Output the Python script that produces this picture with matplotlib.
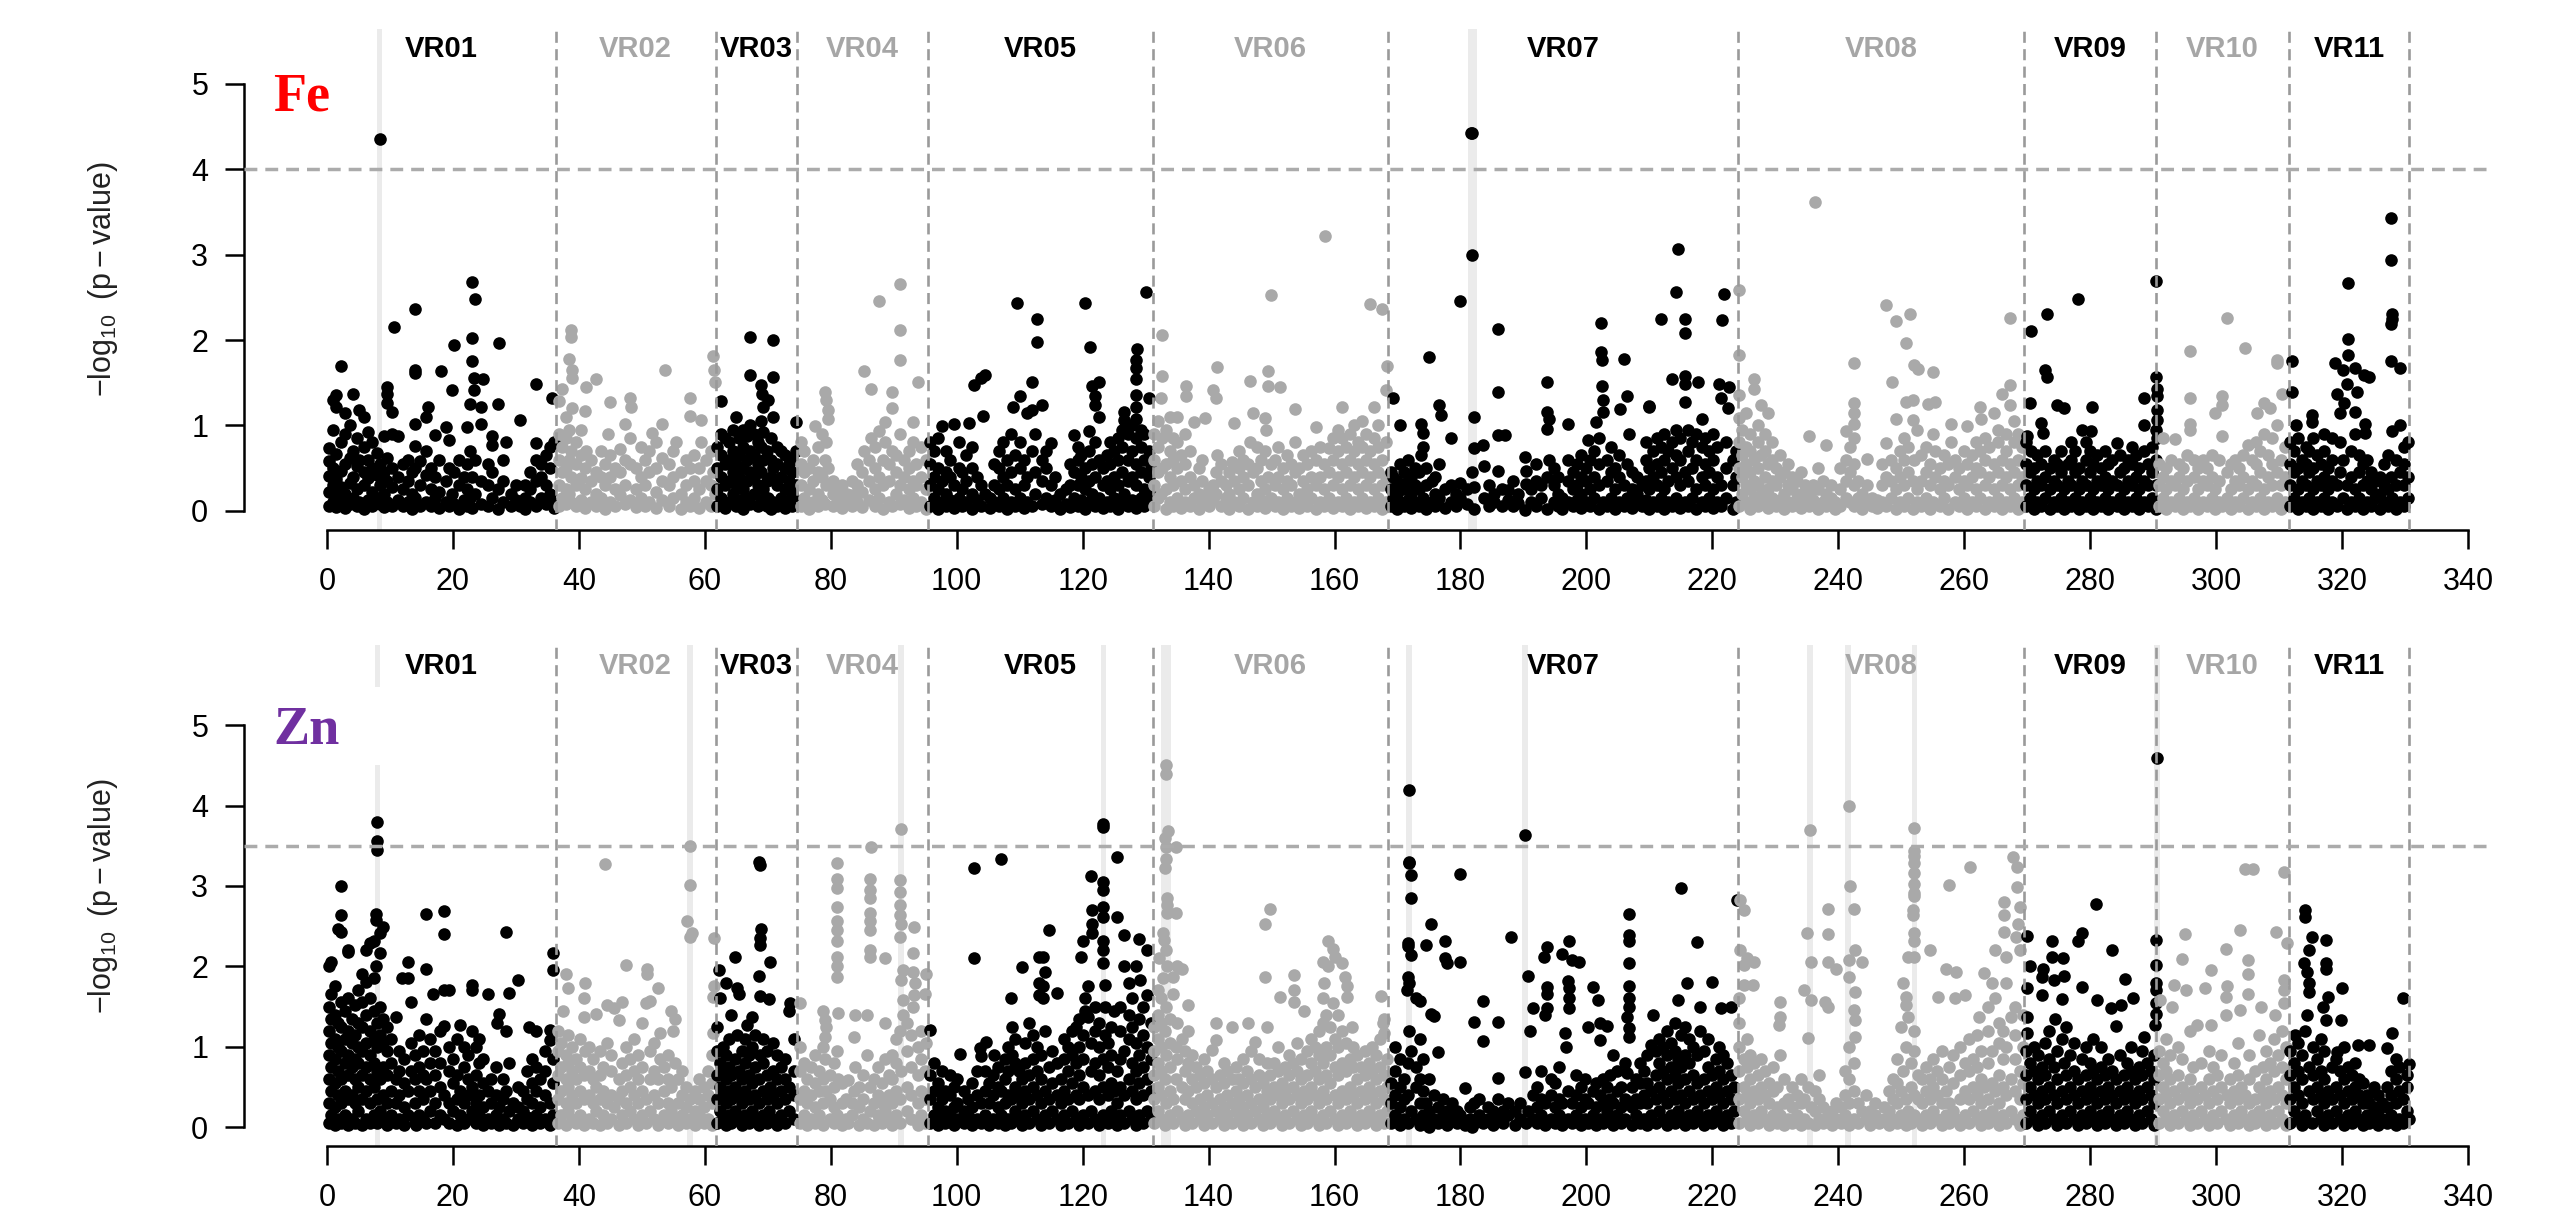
import matplotlib
matplotlib.use('Agg')
import matplotlib.pyplot as plt

plt.rcParams['font.family'] = ['Liberation Sans', 'DejaVu Sans']
plt.rcParams['mathtext.fontset'] = 'custom'
plt.rcParams['mathtext.rm'] = 'Liberation Sans'
plt.rcParams['mathtext.it'] = 'Liberation Sans:italic'
plt.rcParams['mathtext.bf'] = 'Liberation Sans:bold'

# ---------------- data ----------------
chrom_names = ['VR01', 'VR02', 'VR03', 'VR04', 'VR05', 'VR06', 'VR07', 'VR08', 'VR09', 'VR10', 'VR11']
chrom_bounds = [0, 36.3, 61.7, 74.7, 95.4, 131.1, 168.5, 224.0, 269.5, 290.5, 311.5, 330.7]
x_ticks = list(range(0, 341, 20))
y_ticks = [0, 1, 2, 3, 4, 5]
fe_threshold = 4.0
zn_threshold = 3.5
fe_bands = [(7.9, 8.8), (181.2, 182.6)]
zn_bands = [(7.55, 8.45), (57.15, 58.05), (90.75, 91.65), (122.85, 123.75), (132.5, 134.1),
            (171.35, 172.25), (189.75, 190.65), (235.05, 235.95), (241.05, 241.95),
            (251.65, 252.55), (290.15, 291.05)]

# each column: [position (Mb), -log10(p) values ...]
fe_vr01 = [[0.3,0.05,0.22,0.41,0.58,0.74],[1.0,0.1,0.3,0.5,0.95,1.3],[1.5,0.04,0.18,0.37,0.66,1.22,1.36],[2.3,0.12,0.28,0.46,0.8,1.7],
 [2.9,0.03,0.2,0.55,0.9,1.14],[3.6,0.08,0.33,0.62,1.0],[4.1,0.15,0.4,0.7,1.37],[4.8,0.05,0.25,0.52,0.85],[5.1,0.1,0.6,1.18],
 [5.8,0.02,0.3,0.45,0.75,1.1],[6.5,0.12,0.38,0.6,0.92],[7.2,0.06,0.22,0.5,0.8],[7.9,0.15,0.42,0.68],[8.4,0.08,0.3,0.55,4.36],
 [9.0,0.04,0.2,0.45,0.88],[9.6,0.1,0.35,0.62,1.26,1.37,1.45],[10.3,0.05,0.28,0.5,0.9,1.16],[10.6,2.15],[11.3,0.12,0.4,0.87],
 [12.0,0.05,0.25,0.55],[12.8,0.1,0.35,0.6],[13.5,0.02,0.2,0.45],[14.0,0.15,0.5,0.76,1.02,1.61,1.65,2.36],[14.8,0.05,0.3,0.58],
 [15.7,0.1,0.42,0.7,1.1],[16.0,1.22],[16.5,0.05,0.25,0.5],[17.1,0.15,0.4,0.89],[17.8,0.03,0.22,0.6],[18.1,1.64],[18.9,0.1,0.35,0.98],
 [19.3,0.05,0.5,0.83],[19.8,0.2,1.41],[20.2,0.08,0.45,1.94],[21.0,0.02,0.3,0.6],[21.7,0.12,0.4],[22.2,0.05,0.25,0.55,0.98],
 [22.7,0.15,0.7,1.25],[23.1,0.03,0.4,1.75,2.02],[23.3,1.41,1.56],[23.0,2.68],[23.5,0.2,0.6,2.48],[24.4,0.08,0.35,1.02,1.21],
 [24.8,1.54],[25.5,0.05,0.3,0.55],[26.2,0.15,0.45,0.77,0.87],[27.1,0.02,0.25,1.25],[27.3,1.97],[28.0,0.1,0.35,0.6],[28.4,0.81],
 [29.2,0.05,0.2],[30.0,0.12,0.3],[30.6,0.05,1.06],[31.5,0.02,0.15,0.3],[32.3,0.1,0.25,0.45],[33.2,0.05,0.35,0.6,0.79,1.49],
 [34.0,0.15,0.4,0.55],[34.8,0.08,0.3,0.65],[35.4,0.2,0.5,0.75],[35.7,0.1,1.32],[36.1,0.03,0.81]]
fe_vr02 = [[36.8,0.05,0.3,0.6,0.9,1.28],[37.3,0.15,0.45,0.75,1.43],[38.0,0.08,0.25,0.5,0.85,1.1],[38.5,0.2,0.6,0.95,1.78],
 [38.8,0.1,0.4,0.7,2.04,2.12],[38.9,1.2,1.55,1.65],[39.6,0.05,0.3,0.55,0.8],[40.3,0.12,0.38,0.65,0.95],[41.0,0.03,0.25,0.5,1.17],
 [41.2,0.7,1.45],[42.0,0.1,0.35,0.6],[42.7,0.05,0.2,0.45,1.54],[43.5,0.15,0.4,0.7],[44.2,0.02,0.3,0.55],[44.6,0.9],
 [45.0,0.1,0.4,0.65,1.27],[45.8,0.05,0.25,0.5],[46.5,0.18,0.45,0.72],[47.4,0.08,0.3,0.6,1.02],[48.1,0.12,0.55,0.85,1.32],[48.3,1.22],
 [49.0,0.04,0.25,0.5],[49.8,0.15,0.4,0.75],[50.5,0.06,0.3,0.6],[51.2,0.1,0.45,0.7],[51.6,0.91],[52.3,0.03,0.22,0.5,0.8],
 [53.2,0.12,0.35,0.62,1.02],[53.7,1.65],[54.3,0.05,0.3,0.55],[55.0,0.15,0.4,0.7],[55.4,0.81],[56.2,0.02,0.2,0.45],[57.0,0.1,0.3,0.6],
 [57.6,0.05,0.5,1.11,1.32],[58.3,0.15,0.35,0.65],[59.0,0.03,0.25,0.5],[59.4,0.8,1.06],[60.2,0.1,0.35,0.6],[61.0,0.05,0.3,0.7],
 [61.3,0.45,1.81],[61.4,1.65],[61.6,0.2,1.51]]
fe_vr03 = [[62.0,0.05,0.25,0.5,0.75],[62.6,0.15,0.4,0.65,0.9,1.28],[63.2,0.03,0.3,0.55,0.85],[63.8,0.1,0.35,0.6,0.8],
 [64.4,0.2,0.45,0.7,0.95],[64.9,0.05,0.3,0.55,1.1],[65.5,0.12,0.4,0.65,0.85],[66.1,0.02,0.25,0.5,0.75,0.95],[66.7,0.15,0.35,0.6,0.88],
 [67.2,0.08,0.45,0.7,1.0,1.59,2.03],[67.8,0.2,0.4,0.65,0.9],[68.4,0.05,0.3,0.55,0.8],[68.9,0.12,0.45,0.75,1.05,1.47],[69.1,1.37],
 [69.3,0.25,0.6,0.92,1.22],[69.8,0.05,0.35,0.7],[70.0,0.15,1.3],[70.5,0.02,0.4,0.6,0.85],[70.9,0.1,0.5,1.1,1.57,2.0],
 [71.5,0.05,0.3,0.55,0.75],[72.1,0.15,0.4,0.7],[72.7,0.03,0.25,0.5,0.65],[73.3,0.1,0.35,0.55],[73.9,0.05,0.2,0.45,0.6],
 [74.5,0.12,0.3,0.7,1.04]]
fe_vr04 = [[75.2,0.05,0.3,0.55,0.8],[75.8,0.15,0.45,0.7],[76.5,0.02,0.25,0.5],[77.2,0.1,0.35,0.6],[77.5,0.99],[78.0,0.05,0.2,0.45,0.75],
 [78.6,0.12,0.4,0.9],[79.1,0.08,0.6,1.39],[79.3,0.3,0.8,1.3],[79.6,0.5,1.08,1.18],[80.3,0.05,0.2,0.35],[81.0,0.1,0.25],
 [81.8,0.03,0.15,0.3],[82.5,0.08,0.2],[83.3,0.05,0.18,0.35],[84.2,0.1,0.3,0.55],[85.0,0.04,0.22,0.45],[85.3,0.7,1.64],
 [86.0,0.12,0.35,0.6],[86.4,0.85,1.43],[87.0,0.05,0.25,0.5,0.75],[87.7,0.15,0.4,0.93,2.46],[88.3,0.02,0.3,0.6],[88.6,0.8,1.04],
 [89.2,0.1,0.35,0.55],[89.7,0.05,0.7,1.2,1.39],[90.4,0.2,0.45,0.65],[91.0,0.08,0.3,0.9,1.77,2.12,2.66],[91.7,0.12,0.4,0.6],
 [92.4,0.03,0.25,0.5,0.7],[93.0,0.15,0.35,0.8,1.04],[93.6,0.05,0.3,0.55],[93.9,1.51],[94.4,0.1,0.4,0.75],[95.1,0.02,0.25,0.6]]
fe_vr05 = [[95.8,0.05,0.3,0.55,0.8],[96.4,0.15,0.4,0.7],[97.0,0.02,0.25,0.5,0.85],[97.7,0.1,0.35,0.99],[98.3,0.05,0.2,0.45,0.7],
 [99.0,0.12,0.4,0.6],[99.6,0.03,0.3,1.02],[100.3,0.15,0.5,0.8],[100.9,0.05,0.25,0.45],[101.5,0.1,0.35,0.65],[101.9,1.03],
 [102.5,0.02,0.2,0.5,0.75],[102.8,1.47],[103.2,0.12,0.4],[103.9,0.05,0.3,1.55],[104.1,1.11],[104.5,0.2,1.59],[105.3,0.03,0.15],
 [106.0,0.1,0.3,0.55],[106.7,0.05,0.25,0.5,0.7],[107.3,0.15,0.4,0.8],[108.0,0.02,0.3,0.6],[108.6,0.1,0.45,0.9],[108.9,1.22],
 [109.3,0.05,0.25,0.65],[109.5,2.43],[110.1,0.15,0.5,0.8,1.34],[110.7,0.03,0.3,0.6],[111.2,0.1,0.4,1.14],[111.9,0.05,0.7,1.18,1.51],
 [112.5,0.2,0.45,0.9],[112.8,1.98,2.25],[113.5,0.08,0.35,0.6,1.24],[114.2,0.15,0.5,0.7],[114.9,0.05,0.3,0.79],[115.6,0.12,0.4],
 [116.4,0.02,0.2],[117.3,0.08,0.25],[118.0,0.04,0.3,0.55],[118.6,0.15,0.45,0.89],[119.2,0.05,0.3,0.6,0.75],[119.8,0.12,0.4,0.65],
 [120.4,0.02,0.25,0.5,2.43],[121.0,0.1,0.35,0.7,0.93],[121.1,1.92],[121.5,0.2,0.55,1.46],[122.0,0.05,0.4,0.8,1.24,1.34],
 [122.6,0.15,0.6,1.1,1.51],[123.2,0.03,0.3,0.5],[123.8,0.1,0.35,0.65],[124.4,0.05,0.25,0.55,0.8],[125.0,0.15,0.4,0.7],
 [125.6,0.02,0.3,0.6,0.85],[126.2,0.1,0.45,0.75,0.95],[126.6,0.2,1.06,1.16],[127.2,0.05,0.35,0.6,0.9],[127.8,0.12,0.4,0.7,1.0],
 [128.4,0.03,0.3,0.55,0.85,1.08,1.22,1.35,1.54,1.67,1.76],[128.6,1.89],[129.2,0.15,0.45,0.75,0.95],[129.8,0.05,0.25,0.6,0.9],
 [130.1,2.56],[130.5,0.1,0.4,0.7,1.32],[130.9,0.2,0.5]]
fe_vr06 = [[131.4,0.05,0.3,0.6,0.9],[132.0,0.15,0.45,0.75,1.05],[132.4,0.2,1.32],[132.6,0.5,0.85,1.58,2.06],[133.2,0.02,0.25,0.55,0.95],
 [133.8,0.1,0.4,0.7,1.1],[134.4,0.05,0.3,0.6,0.85],[135.0,0.15,0.5,0.8,1.1],[135.6,0.03,0.35,0.65],[136.2,0.1,0.25,0.55,0.9],
 [136.4,1.34,1.46],[137.0,0.05,0.4,0.7],[137.7,0.15,0.3,1.04],[138.4,0.02,0.2,0.5],[139.0,0.1,0.35,0.6],[139.4,0.15,1.09],
 [140.0,0.05,0.25],[140.7,0.12,0.3,1.42],[141.2,0.2,0.45,1.32],[141.4,0.65,1.68],[142.0,0.05,0.35,0.55],[142.7,0.15,0.3],
 [143.3,0.02,0.2,0.45],[143.7,0.57],[144.1,0.1,0.35,1.03],[144.8,0.05,0.25,0.5,0.7],[145.5,0.15,0.4,0.6],[146.2,0.02,0.3,0.55],
 [146.5,0.8,1.52],[147.0,0.1,0.45,1.14],[147.7,0.05,0.2,0.5,0.75],[148.3,0.12,0.35,0.6],[149.0,0.03,0.25,0.7,1.09],[149.1,0.94],
 [149.4,0.4,1.46,1.64],[149.9,0.15,0.55,2.53],[150.5,0.05,0.3,0.6],[151.1,0.1,0.4,0.75],[151.4,1.45],[151.8,0.02,0.25,0.5],
 [152.5,0.15,0.35,0.65],[153.1,0.05,0.3,0.55],[153.7,0.1,0.45,0.8,1.19],[154.4,0.03,0.2,0.5],[155.0,0.12,0.35,0.65],
 [155.7,0.05,0.25,0.55],[156.3,0.15,0.4,0.7],[157.0,0.02,0.3,0.6,0.98],[157.7,0.1,0.4,0.75],[158.3,0.05,0.25,0.55],[158.5,3.22],
 [159.1,0.15,0.45,0.73],[159.8,0.03,0.3,0.6,0.85],[160.5,0.1,0.4,0.7,0.95],[161.2,0.05,0.25,0.55,0.85,1.21],[161.8,0.15,0.45,0.75],
 [162.5,0.02,0.3,0.6,0.9],[163.1,0.1,0.4,0.7,1.0],[163.8,0.05,0.25,0.55,0.8],[164.4,0.15,0.45,0.75,1.05],[165.0,0.03,0.3,0.6,0.9],
 [165.6,0.1,0.4,0.7,2.42],[166.3,0.05,0.25,0.55,0.85,1.22],[166.9,0.15,0.45,0.75,1.0],[167.6,0.02,0.3,0.6,2.36],
 [168.2,0.1,0.4,0.8,1.41],[168.4,1.7]]
fe_vr07 = [[168.9,0.05,0.25,0.45],[169.3,0.15,0.4,1.32],[169.9,0.02,0.2,0.35],[170.4,0.1,0.3,0.55,1.0],[171.0,0.05,0.25,0.45],
 [171.6,0.12,0.35,0.6],[172.2,0.03,0.2,0.4],[172.8,0.1,0.3,0.5],[173.4,0.05,0.25,0.45],[173.8,0.65,1.02],[174.0,0.15,0.75,0.91],
 [174.6,0.02,0.3,0.5],[175.0,1.8],[175.4,0.1,0.35],[176.0,0.05,0.2,0.4],[176.6,0.15,0.55,1.24],[176.9,1.12],[177.6,0.03,0.25],
 [178.5,0.1,0.3,0.85],[179.3,0.05,0.2],[180.0,0.15,0.32,2.46],[181.0,0.08,0.25],[181.6,4.42],[181.9,0.45,3.0,4.42],
 [182.2,0.02,0.28,0.73,1.1],[183.6,0.77],[183.7,0.15,0.52],[184.5,0.05,0.3],[185.3,0.1,0.2],[186.0,0.46,0.89,1.39,2.13],
 [186.6,0.05,0.25],[187.1,0.89],[187.5,0.24,0.12],[188.3,0.05,0.35],[189.1,0.09,0.2],[190.3,0.01,0.63],[190.4,0.31,0.46],
 [191.2,0.1,0.25],[192.0,0.05,0.35,0.55],[192.8,0.15,0.3],[193.7,0.02,0.4,0.96,1.16,1.51],[194.1,0.6,1.08],[194.8,0.1,0.3,0.5],
 [195.5,0.05,0.2,0.4],[196.2,0.02,0.15],[197.0,0.1,0.35,0.6,1.02],[197.8,0.05,0.25,0.45],[198.5,0.12,0.3,0.55],
 [199.2,0.03,0.2,0.4,0.65],[199.9,0.1,0.35,0.5],[200.3,0.83],[200.6,0.05,0.25,0.6],[201.2,0.15,0.4,0.7],[201.6,1.04],
 [202.0,0.02,0.3,0.55,0.85],[202.3,1.86,2.2],[202.4,1.46,1.76],[202.7,0.1,1.16,1.3],[203.3,0.05,0.35,0.6],[203.9,0.15,0.45,0.75],
 [204.5,0.02,0.25,0.5],[205.1,0.1,0.4,0.65],[205.4,1.19],[205.9,0.05,0.3,1.78],[206.5,0.15,0.55,1.34],[206.7,0.9],
 [207.2,0.03,0.25,0.45],[208.0,0.1,0.2,0.4],[208.8,0.05,0.3],[209.5,0.12,0.35,0.6,0.8],[210.0,0.02,0.25,0.5,1.22,1.23],
 [210.6,0.1,0.4,0.7],[211.2,0.05,0.3,0.55,0.85],[211.8,0.15,0.45,0.75,2.25],[212.4,0.02,0.25,0.6,0.9],[213.0,0.1,0.35,0.7],
 [213.6,0.05,0.5,0.8,1.54],[214.2,0.15,0.4,0.65,0.95],[214.3,2.56],[214.6,3.07],[214.9,0.03,0.3,0.6,0.85],
 [215.6,0.1,0.45,1.27,1.49,1.58,2.08,2.25],[216.2,0.05,0.35,0.7,0.95],[216.8,0.15,0.5,0.8],[217.4,0.02,0.25,0.6,0.9],[217.8,1.51],
 [218.3,0.1,0.4,0.75,1.08],[218.9,0.05,0.3,0.55,0.85],[219.5,0.15,0.45,0.7],[220.1,0.03,0.25,0.6,0.9],[220.7,0.1,0.4,0.75],
 [221.0,1.48],[221.4,0.05,0.3,1.32],[221.6,2.23],[221.8,2.54],[222.2,0.15,0.5,0.8],[222.5,1.2],[222.7,1.45],[223.3,0.02,0.3,0.6],
 [223.8,0.1,0.4,0.7]]
fe_vr08 = [[224.2,0.05,0.5,0.8,1.09,1.35,1.82,2.58],[224.7,0.2,0.4,0.65,0.95],[225.3,0.1,0.3,0.55,0.75,1.14],[225.9,0.02,0.25,0.45,0.7,0.9],
 [226.6,0.15,0.35,0.6,1.43,1.54],[227.2,0.05,0.3,0.5,0.8,1.0],[227.7,0.2,0.65,1.24],[228.3,0.1,0.4,0.7,0.9],[228.8,0.03,0.25,0.55,1.15],
 [229.5,0.15,0.35,0.6,0.8],[230.1,0.05,0.3,0.5],[230.7,0.12,0.4,0.65],[231.4,0.02,0.2,0.45],[232.0,0.1,0.3,0.55],[232.7,0.05,0.25,0.4],
 [233.4,0.15,0.35],[234.0,0.03,0.2,0.45],[234.7,0.1,0.3],[235.3,0.05,0.2,0.87],[236.0,0.12,0.3],[236.3,3.62],[236.8,0.02,0.25,0.5],
 [237.5,0.1,0.35],[238.1,0.05,0.2,0.77],[238.8,0.15,0.3],[239.5,0.02,0.1],[240.3,0.05,0.25,0.5],[241.2,0.15,0.35,0.6,0.93],
 [241.8,0.1,0.45,0.75],[242.5,0.05,0.3,0.55,0.85,1.02,1.14,1.26,1.73],[243.1,0.15,0.35],[243.8,0.02,0.2],[244.5,0.1,0.3,0.61],
 [245.3,0.05,0.15],[246.2,0.03,0.12],[247.0,0.1,0.3,0.55],[247.6,0.05,0.4,0.79,2.41],[248.3,0.15,0.35,0.6],[248.6,1.51],
 [249.2,0.02,0.25,0.5,1.08,2.22],[249.8,0.1,0.4,0.7],[250.4,0.05,0.3,0.6,0.85],[250.7,1.27,1.97],[251.1,0.15,0.45,0.75],[251.4,2.31],
 [251.8,0.02,0.35,1.06,1.3],[252.1,0.6,1.71],[252.5,0.1,0.25,0.94],[252.7,1.66],[253.2,0.05,0.35,0.65],[253.9,0.15,0.45,0.75],
 [254.2,1.25],[254.6,0.02,0.3,0.55],[255.0,0.1,0.9,1.63],[255.4,0.4,0.7,1.27],[256.1,0.05,0.25,0.5],[256.8,0.15,0.35,0.65],
 [257.5,0.02,0.3,0.55],[257.9,0.8,1.02],[258.5,0.1,0.4,0.6],[259.2,0.05,0.25,0.5],[259.9,0.15,0.35,0.7],[260.5,0.02,0.3,0.55,0.99],
 [261.2,0.1,0.4,0.65],[261.9,0.05,0.25,0.5,0.8],[262.5,0.15,0.45,0.7,1.21],[262.7,1.08],[263.3,0.02,0.3,0.6,0.85],
 [264.0,0.1,0.4,0.75],[264.7,0.05,0.25,0.55,1.15],[265.3,0.15,0.45,0.8,0.95],[266.0,0.02,0.3,0.6,1.37],[266.6,0.1,0.4,0.7,0.9],
 [267.2,0.05,0.25,0.55,1.47,2.26],[267.3,1.24],[267.9,0.15,0.45,0.8,1.05],[268.5,0.02,0.3,0.6,0.9],[269.2,0.1,0.4,0.75]]
fe_vr09 = [[269.8,0.05,0.3,0.55,0.8],[270.0,0.87],[270.5,0.15,0.45,1.26],[270.6,0.7,2.1],[271.1,0.02,0.25,0.5],[271.6,0.1,0.35,0.65],
 [272.2,0.05,0.3,0.55,1.03],[272.5,0.91],[272.8,0.15,0.4,0.7,1.65],[273.1,1.57,2.31],[273.6,0.02,0.25,0.5],[274.2,0.1,0.35,0.6],
 [274.7,0.05,0.3,0.55,1.24],[275.3,0.15,0.45,0.7],[275.8,0.02,0.25,1.2],[276.4,0.1,0.35,0.55],[277.0,0.05,0.3,0.6,0.8],
 [277.6,0.15,0.45,0.7],[278.0,2.48],[278.2,0.02,0.25,0.5],[278.7,0.1,0.35,0.94],[279.3,0.05,0.3,0.6,0.8],[279.9,0.15,0.45,0.7],
 [280.2,0.93],[280.3,1.21],[280.5,0.02,0.25,0.55],[281.1,0.1,0.35,0.65],[281.7,0.05,0.3,0.5],[282.3,0.15,0.4,0.7],
 [282.9,0.02,0.25,0.55],[283.5,0.1,0.35,0.6],[284.2,0.05,0.3,0.79],[284.8,0.15,0.45,0.65],[285.4,0.02,0.25,0.5],[286.0,0.1,0.35,0.6],
 [286.6,0.05,0.3,0.55,0.75],[287.2,0.15,0.4,0.65],[287.8,0.02,0.25,0.5],[288.6,0.1,0.35,0.7,1.0,1.32],[289.2,0.05,0.3,0.55],
 [289.8,0.15,0.45,0.75],[290.4,0.02,0.3,0.6,0.94],[290.5,1.57,2.69],[290.6,0.85,1.06,1.18,1.34,1.43]]
fe_vr10 = [[290.9,0.05,0.3,0.55],[291.5,0.15,0.4,0.85],[292.1,0.02,0.25,0.5],[292.8,0.1,0.35,0.6],[293.5,0.05,0.3,0.84],
 [294.1,0.15,0.4,0.55],[294.8,0.02,0.25,0.5],[295.4,0.1,0.35,0.65],[295.9,0.05,0.94,1.02,1.32,1.87],[296.5,0.15,0.4,0.6],
 [297.2,0.02,0.25,0.5],[297.9,0.1,0.35,0.6],[298.6,0.05,0.3,0.5],[299.3,0.15,0.4,0.65],[299.9,0.02,0.25,1.14],[300.5,0.1,0.35,0.6],
 [301.0,0.05,0.87,1.24,1.34],[301.7,0.15,0.45,2.26],[302.3,0.02,0.25,0.55],[303.0,0.1,0.35,0.6],[303.7,0.05,0.3,0.5],
 [304.3,0.15,0.4,0.65],[304.6,1.91],[305.0,0.02,0.25,0.77],[305.7,0.1,0.35,0.6],[306.3,0.05,0.3,0.55,0.8],[306.5,1.14],
 [307.0,0.15,0.45,0.7],[307.6,0.02,0.25,0.9,1.26],[308.2,0.1,0.4,0.65],[308.6,1.2],[308.9,0.05,0.3,0.55,0.85],
 [309.6,0.15,0.45,1.0,1.76],[309.7,1.73],[310.3,0.02,0.3,0.6],[310.5,1.37],[311.0,0.1,0.4,0.75]]
fe_vr11 = [[311.8,0.05,0.3,0.55,0.8],[312.1,1.39,1.75],[312.4,0.15,0.45,0.7],[312.7,1.0],[313.0,0.02,0.25,0.5,0.85],[313.6,0.1,0.35,0.6],
 [314.2,0.05,0.3,0.55,0.75],[314.8,0.15,0.45,0.7],[315.2,1.04,1.12],[315.4,0.02,0.25,0.5,0.85],[316.0,0.1,0.35,0.65],
 [316.6,0.05,0.3,0.55],[317.2,0.15,0.4,0.7,0.9],[317.8,0.02,0.25,0.5],[318.4,0.1,0.35,0.6,0.85],[318.9,1.73],[319.2,0.05,0.3,1.37],
 [319.6,0.45,0.8,1.14],[320.1,0.15,0.6,1.65],[320.3,1.26],[320.8,0.02,0.3,1.49],[320.9,1.82,2.01,2.67],[321.4,0.1,0.4,0.7],
 [322.0,0.05,0.25,0.9,1.67],[322.1,1.16],[322.4,1.39],[322.7,0.15,0.45,0.65],[323.3,0.02,0.3,0.55],[323.5,1.59],[323.6,0.91,1.02],
 [324.0,0.1,0.35,0.6],[324.3,1.57],[324.6,0.05,0.25,0.45],[325.3,0.15,0.35],[326.0,0.02,0.2,0.4],[326.7,0.1,0.3,0.55],
 [327.3,0.05,0.25,0.65],[327.8,0.4,1.75,2.19,2.94,3.43],[328.0,0.15,0.93,2.25,2.31],[328.6,0.02,0.3,0.6],[329.2,0.1,0.45,1.0,1.67],
 [329.8,0.05,0.3,0.55,0.75],[330.5,0.15,0.4,0.81]]

zn_vr01 = [[0.3,0.05,0.3,0.6,0.9,1.2,1.5,2.0],[0.7,0.15,0.45,0.75,1.05,1.35,1.65,2.06],[1.2,0.02,0.25,0.55,0.85,1.1,1.4,1.75],
 [1.7,0.1,0.4,0.7,1.0,1.3,2.46],[2.2,0.05,0.3,0.6,0.95,1.25,1.55,2.43,2.64,3.0],[2.8,0.15,0.45,0.8,1.1,1.45],
 [3.3,0.02,0.35,0.65,0.9,1.2,2.18],[3.4,1.6,2.2],[3.9,0.1,0.4,0.75,1.05,1.35],[4.4,0.05,0.3,0.6,0.85,1.15,1.52],
 [5.0,0.2,0.5,0.8,1.0,1.3,1.7],[5.5,0.02,0.35,0.65,0.95,1.25,1.55,1.9],[6.2,0.1,0.45,0.75,1.05,1.4,1.8,2.2],
 [6.8,0.05,0.3,0.6,0.9,1.2,1.6,2.29],[7.5,0.15,0.5,0.8,1.1,1.45,1.85,2.31],[7.8,2.0,2.58,2.65],[8.0,0.05,0.35,0.7,1.0,1.3,3.45,3.56,3.8],
 [8.4,0.2,0.6,1.15,1.5,2.17,2.42],[8.9,0.1,0.4,0.75,1.05,1.35,2.49],[9.5,0.02,0.3,0.65,0.95,1.25],[10.2,0.15,0.45,0.8,1.1],
 [10.9,0.05,0.3,0.6,1.37],[11.5,0.1,0.4,0.7,0.95],[11.9,1.86],[12.3,0.02,0.25,0.55,0.85],[12.8,1.86],[12.9,0.15,0.45,2.05],
 [13.3,0.7,1.05,1.56],[13.9,0.05,0.3,0.6,0.9],[14.2,0.02],[14.6,0.15,0.45,0.75,1.15],[15.3,0.1,0.35,0.65,0.95],
 [15.8,0.05,0.6,1.35,1.97,2.65],[16.4,0.2,0.45,0.8,1.1],[16.8,1.66],[17.2,0.05,0.3,0.65,0.95],[17.9,0.15,0.5,0.8,1.2],
 [18.6,0.1,0.4,1.26,1.71,2.4,2.69],[19.3,0.05,0.3,0.7,1.0,1.71],[20.0,0.2,0.55,0.85],[20.6,0.02,0.35,0.65,1.1],[21.1,0.15,0.45,1.27],
 [21.8,0.05,0.3,0.75,1.0],[22.4,0.1,0.4,0.6,0.9],[23.0,0.2,0.5,1.2,1.71,1.77],[23.6,0.05,0.3,0.65,1.0],[24.2,0.15,0.4,0.8,1.1],
 [24.8,0.02,0.25,0.55,0.85],[25.5,0.1,0.45,1.66],[26.1,0.05,0.3,0.6],[26.8,0.15,0.4,0.75],[27.0,1.29],[27.3,0.02,0.25,1.41],
 [27.9,0.1,0.35,0.6],[28.4,0.05,0.45,1.19,2.43],[28.9,0.2,0.8,1.67],[29.6,0.02,0.3],[30.4,0.1,0.25,0.5,1.83],[31.1,0.05,0.2,0.45],
 [31.8,0.12,0.35,0.7],[32.1,1.25],[32.6,0.02,0.3,0.55,0.85],[33.2,0.15,0.45,0.75,1.19],[33.9,0.05,0.25,0.6],[34.6,0.1,0.4,0.7,0.95],
 [35.4,0.02,0.3,1.08,1.21],[35.9,0.15,0.55,0.85,1.95,2.16]]
zn_vr02 = [[36.7,0.05,0.35,0.65,0.95,1.2],[37.2,0.15,0.45,0.75,1.05],[37.5,1.44],[37.9,0.02,0.3,0.6,0.9,1.9],[38.3,0.2,0.5,0.8,1.15,1.73],
 [38.9,0.1,0.4,0.7,1.0],[39.5,0.05,0.3,0.6,0.85],[40.2,0.15,0.45,0.75,1.1],[40.8,0.02,0.35,0.65,1.37,1.61],[41.0,0.95,1.79],
 [41.6,0.1,0.4,0.7,1.0],[42.2,0.05,0.3,0.6,0.85],[42.7,0.2,0.5,1.41],[43.3,0.02,0.35,0.65,0.95],[43.9,0.15,0.45,0.75],[44.1,3.27],
 [44.5,0.05,0.3,1.05,1.52],[45.1,0.1,0.4,0.7,0.9],[45.6,0.25,1.48],[46.3,0.02,0.35,0.6,1.33],[46.8,0.15,0.45,0.8,1.56],
 [47.5,0.05,0.3,0.65,1.0,2.02],[48.1,0.2,0.5,0.85],[48.8,0.1,0.4,0.7,1.1],[49.4,0.02,0.3,0.6,0.9],[50.0,0.15,0.45,0.75,1.29],
 [50.7,0.05,0.35,1.54],[50.8,1.9,1.97],[51.3,0.2,0.6,0.95,1.57],[51.9,0.1,0.4,0.7,1.05],[52.5,0.02,0.3,0.6,1.73],[52.9,0.85,1.17],
 [53.5,0.15,0.45,0.75],[54.1,0.05,0.3,0.6,0.9],[54.7,0.2,0.5,1.44],[54.9,1.19],[55.2,0.1,0.8,1.35],[55.8,0.02,0.3,0.6],
 [56.4,0.15,0.4,0.7],[57.0,0.05,0.25,0.5],[57.2,2.57],[57.6,0.1,0.35,2.36,3.5],[57.7,3.01],[58.0,2.41],[58.4,0.02,0.2,0.45],
 [59.1,0.15,0.35,0.6],[59.8,0.05,0.25,0.5],[60.5,0.1,0.4,0.7],[61.1,0.02,0.3,0.55,0.9],[61.3,1.17,1.62],[61.5,1.75,2.35]]
zn_vr03 = [[62.0,0.05,0.35,0.65,0.95,1.25],[62.2,1.96],[62.4,0.2,0.5,0.8,1.6],[62.9,0.1,0.4,0.7,1.0],[63.3,0.02,0.3,0.6,0.9,1.79],
 [63.8,0.15,0.45,0.75,1.1],[64.2,0.05,0.35,0.65,1.39],[64.8,0.2,0.5,0.85,2.12],[65.1,1.15,1.73],[65.4,0.1,0.4,0.7,1.66],
 [65.9,0.02,0.3,0.6,0.95],[66.4,0.15,0.45,0.8,1.1],[66.7,1.27],[67.0,0.05,0.35,0.65,0.9],[67.5,0.2,0.55,1.0,1.37],
 [68.0,0.1,0.4,0.75,1.15],[68.6,0.02,0.3,0.6,1.88,3.3],[68.7,0.9,2.27,3.26],[68.8,1.63,2.35],[68.9,2.47],[69.3,0.15,0.45,0.8,1.1],
 [69.8,0.05,0.35,0.65,0.95],[70.2,0.2,1.59],[70.4,0.5,2.06],[70.9,0.1,0.4,0.7,1.05],[71.5,0.02,0.3,0.6,0.9],[72.1,0.15,0.45,0.75],
 [72.7,0.05,0.35,0.6,0.85],[73.3,0.2,0.5,1.44],[73.6,1.54],[74.2,0.1,0.4,0.7,1.09]]
zn_vr04 = [[75.1,0.05,0.35,0.7,1.0,1.54],[75.7,0.15,0.45,0.8],[76.3,0.02,0.3,0.6],[76.9,0.1,0.4,0.75],[77.5,0.05,0.25,0.55,0.9],
 [78.1,0.15,0.45,0.7],[78.8,0.02,0.3,0.6,1.0,1.44],[79.1,0.85,1.12,1.33],[79.3,0.45,1.25],[79.9,0.1,0.35,0.65],[80.5,0.05,0.25,0.5,0.8],
 [81.0,0.15,0.95,1.87,2.0,2.12,2.31,2.45,2.56,2.74,2.97,3.09,3.29],[81.2,0.6,1.42],[81.8,0.02,0.3,0.55],[82.4,0.1,0.35],[82.8,0.05,0.58],
 [83.4,0.15,0.3],[83.7,0.45,1.12],[83.9,0.75,1.39],[84.5,0.02,0.25,0.5],[85.1,0.1,0.35,0.65],[85.8,0.05,0.9,1.39],
 [86.3,0.2,0.5,2.12,2.2,2.45,2.56,2.66,2.85,2.95,3.09],[86.4,3.48],[86.9,0.02,0.3,0.6],[87.5,0.15,0.4,0.75],[88.1,0.05,0.3,0.55],
 [88.6,0.2,0.85,1.3,2.1],[89.2,0.1,0.4,0.65],[89.8,0.02,0.3,0.6,0.9],[90.4,0.15,0.45,0.8,1.1],[91.0,0.05,0.35,1.2,2.37,2.64,2.76,2.92,3.07],
 [91.2,0.7,1.83,2.53,3.71],[91.4,1.4,1.95],[91.5,1.58],[92.1,0.2,0.5,0.95,1.3],[92.7,0.1,0.4,0.75,1.15],[93.0,1.5,1.93,2.16],
 [93.2,1.64,2.49],[93.4,1.79],[93.8,0.02,0.3,0.65,1.0],[94.4,0.15,0.45,0.85,1.2],[95.0,0.05,0.35,0.7,1.66],[95.2,1.05,1.91]]
zn_vr05 = [[95.8,0.05,0.35,0.65,1.21],[96.4,0.15,0.45,0.8],[97.0,0.02,0.25,0.55],[97.6,0.1,0.35,0.7],[98.2,0.05,0.2,0.45],
 [98.9,0.15,0.4,0.65],[99.5,0.02,0.25,0.5],[100.1,0.1,0.3,0.6],[100.5,0.91],[101.1,0.05,0.2,0.45],[101.8,0.15,0.35],
 [102.4,0.02,0.25,0.55],[102.8,2.1,3.22],[103.2,0.1,0.4,0.7],[103.7,0.98],[103.9,0.05,0.3,0.88],[104.5,0.15,0.45,0.7],[104.7,1.06],
 [105.2,0.02,0.3,0.55],[105.8,0.1,0.4,0.65],[106.0,0.9],[106.5,0.05,0.25,0.5,0.75],[107.0,0.15,0.45,3.33],[107.6,0.02,0.3,0.6,0.85],
 [108.2,0.1,0.4,0.7,1.0],[108.7,0.05,0.35,1.6],[108.8,0.9,1.24],[109.3,0.2,0.5,0.8,1.1],[109.9,0.1,0.4,0.7],[110.3,0.02,0.3,0.6,1.99],
 [110.9,0.15,0.45,0.8,1.05],[111.5,0.05,0.35,0.65,1.29],[112.1,0.2,0.5,0.85,1.15],[112.7,0.1,0.4,0.7,1.0],[113.0,1.64,1.79,2.12],
 [113.4,0.02,0.3,0.6,0.9],[113.7,1.6,1.75,2.12],[114.0,0.15,0.45,1.2,1.93],[114.6,0.05,0.35,0.75,2.45],[115.2,0.2,0.55,0.95],
 [115.9,0.1,0.4,0.8,1.67],[116.5,0.02,0.3,0.6],[117.1,0.15,0.45,0.85,1.1],[117.7,0.05,0.35,0.7,1.0],[118.3,0.2,0.55,0.9,1.2],
 [118.9,0.1,0.4,0.8,1.25],[119.4,0.02,0.35,0.65,1.0,1.35],[119.7,2.12],[120.0,0.15,0.5,0.85,1.15,2.31],[120.4,1.45,1.6],
 [120.8,0.05,0.4,1.37,1.75],[121.3,0.2,0.7,1.05,3.12],[121.5,2.42,2.53,2.7],[122.0,0.1,0.45,0.8,1.2,1.5],[122.6,0.02,0.35,0.65,1.0,1.3],
 [123.3,0.15,0.5,0.85,2.04,2.2,2.31,2.62,2.74,2.95,3.05,3.73,3.77],[123.5,1.15,1.5,1.77],[124.0,0.05,0.4,0.75,1.05],
 [124.5,0.2,0.55,0.9,1.25],[125.0,0.1,0.45,1.44],[125.5,0.02,0.3,0.7,2.62,3.36],[126.0,0.15,0.5,0.85,1.2,1.5],
 [126.6,0.05,0.4,0.95,2.0,2.39],[127.3,0.2,0.6,1.1,1.4,1.79],[127.9,0.1,0.45,0.8,1.25,1.6],[128.4,0.02,0.35,0.7,1.05,2.0],
 [128.9,0.15,0.55,0.9,1.35,2.34],[129.1,1.83],[129.6,0.05,0.4,0.75,1.15,1.5],[130.2,0.2,0.6,1.0,1.64,2.2],[130.8,0.1,0.45,0.85,1.3]]
zn_vr06 = [[131.4,0.05,0.35,0.65,0.95,1.25],[131.9,0.2,0.5,0.8,1.1,1.4,1.71],[132.1,2.1],[132.5,0.1,0.4,0.7,1.0,1.3,1.6],[132.8,1.85,2.41],
 [132.9,2.33],[133.0,0.02,0.6,1.2,3.22,3.6],[133.2,0.3,0.9,1.5,2.2,3.33],[133.3,3.49,4.39,4.51],[133.4,2.0,2.66,2.76,2.85],[133.5,3.68],
 [133.8,0.15,0.45,0.75,1.05,1.35],[134.3,0.05,0.35,1.65,1.87],[134.8,0.6,1.0,2.66,3.49],[135.0,0.2,0.85,1.3,2.0],[135.7,0.1,0.5,1.1,1.97],
 [136.2,0.02,0.35,0.7,0.95],[136.8,0.15,0.45,0.8,1.2,1.52],[137.4,0.05,0.3,0.6,0.9],[138.0,0.2,0.5,0.75],[138.6,0.1,0.35,0.65],
 [139.2,0.02,0.25,0.55,0.85],[139.8,0.15,0.4,0.7],[140.5,0.05,0.3,0.6,0.96],[141.2,0.2,0.5,1.08,1.29],[141.8,0.1,0.35,0.65],
 [142.4,0.02,0.25,0.55,0.8],[143.0,0.15,0.4,0.7],[143.7,0.05,0.3,0.6,1.25],[144.3,0.2,0.45,0.75],[144.9,0.1,0.35,0.6],
 [145.5,0.02,0.25,0.55,0.85],[146.1,0.15,0.4,0.7],[146.3,1.3],[146.8,0.05,0.3,0.6,0.95],[147.4,0.2,0.5,1.06],[148.0,0.1,0.35,0.65,0.85],
 [148.6,0.02,0.25,0.55],[149.0,1.87,2.53],[149.2,0.15,0.45,0.8,1.25],[149.7,2.71],[149.8,0.05,0.35,0.65],[150.4,0.2,0.5,0.8],
 [151.0,0.1,0.4,0.7,1.0],[151.4,1.62],[151.6,0.02,0.3,0.55],[152.2,0.15,0.45,0.75],[152.8,0.05,0.35,0.65,0.9],[153.4,0.2,0.5,0.8],
 [153.6,1.56,1.71,1.89],[154.0,0.1,0.4,0.7,1.05],[154.6,0.02,0.3,0.6,0.85],[155.1,0.15,0.45,1.44],[155.7,0.05,0.35,0.65,0.95],
 [156.3,0.2,0.5,0.8,1.1],[156.9,0.1,0.4,0.7,1.0],[157.5,0.02,0.3,0.6,0.9,1.2],[158.1,0.15,0.45,0.8,1.3,1.6],[158.2,2.05],[158.3,1.79],
 [158.7,0.05,0.35,0.65,1.0,1.4],[158.9,2.31],[159.0,2.0],[159.3,0.2,0.55,0.9,1.25],[159.8,1.54,2.21],[160.0,0.1,0.4,0.75,1.1],
 [160.1,2.12],[160.5,0.02,0.3,0.65,1.0,1.39],[161.2,0.15,0.45,0.8,1.2,2.04],[161.6,1.87],[161.8,0.05,0.35,0.7,1.05],[162.0,1.62,1.75],
 [162.4,0.2,0.5,0.85],[162.7,1.25],[163.0,0.1,0.4,0.75,1.0],[163.6,0.02,0.3,0.6,0.9],[164.2,0.15,0.45,0.75],[164.8,0.05,0.35,0.65,0.95],
 [165.4,0.2,0.5,0.8],[166.0,0.1,0.4,0.7,1.0],[166.6,0.02,0.3,0.6,0.9],[167.2,0.15,0.45,0.75,1.1],[167.4,1.63],[167.7,1.29],
 [167.8,0.05,0.35,0.65,1.17,1.35],[168.3,0.2,0.5,0.85]]
zn_vr07 = [[168.9,0.05,0.3,0.55],[169.6,0.15,0.4,0.7,1.0],[170.4,0.02,0.25,0.5,0.85],[171.0,0.1,0.35,0.6],[171.5,1.7],
 [171.6,0.05,0.4,0.8,1.87,2.25,2.29],[171.8,1.2,1.79,4.2],[171.9,3.28,3.3],[172.2,0.2,0.95,2.14,2.85,3.14],[172.9,0.1,0.5,0.75,1.6],
 [173.6,0.02,0.3,0.6,1.1,1.57],[174.0,0.15,0.45,0.85],[174.5,0.05,0.3,2.27],[175.0,0.0,0.2,0.6],[175.3,1.41,2.53],[175.8,0.1,0.4,1.38],
 [176.5,0.05,0.25,0.93],[177.2,0.15,0.35],[177.5,2.1],[177.6,2.31],[177.9,0.02,0.2,2.04],[178.7,0.1,0.3],[179.4,0.05,0.2],
 [180.0,0.15,2.06,3.15],[180.7,0.02,0.48],[181.5,0.1,0.25],[181.8,0.0],[182.2,0.05,0.3,1.31],[183.0,0.15,0.35],[183.5,1.07],
 [183.6,0.05,1.57],[184.4,0.1,0.25],[185.2,0.02,0.2],[186.0,0.1,0.35,0.61,1.31],[186.8,0.05,0.2],[187.6,0.15,0.3],[188.1,2.36],
 [188.6,0.02,0.2],[189.4,0.1,0.3],[190.2,3.64],[190.3,0.69],[190.4,0.05],[190.8,0.2,1.88],[191.1,1.19],[191.5,0.1,0.4,1.48],
 [192.2,0.05,0.25,0.5],[192.8,0.15,0.35,0.7],[193.3,2.11],[193.5,0.02,0.3,1.39],[193.7,1.48,1.74,2.24],[193.8,1.66],[194.3,0.1,0.4,0.6],
 [195.0,0.05,0.25,0.55],[195.7,0.15,0.35,0.75],[196.2,0.02,0.3,2.15],[196.6,1.17],[196.8,0.99],[197.1,0.1,0.45,1.82],
 [197.2,1.48,1.6,1.73,2.31],[197.7,0.05,0.3,2.08],[198.4,0.15,0.4,0.65],[198.9,2.05],[199.1,0.02,0.25,0.5],[199.8,0.1,0.35,0.6],
 [200.3,0.05,0.3,1.25],[201.0,0.15,0.45,1.74],[201.6,0.02,0.25,0.55],[201.9,1.58],[202.1,0.1,0.4,1.08,1.3],[202.7,0.05,0.3,0.6],
 [203.2,0.2,0.5,1.26],[203.8,0.1,0.35,0.65],[204.3,0.02,0.3,0.9],[204.9,0.15,0.45,0.7],[205.5,0.05,0.25,0.5],[206.1,0.1,0.35,0.8],
 [206.5,0.67,1.37],[206.7,1.12,1.23,1.5,1.61,1.75,2.04,2.31,2.39,2.65],[207.3,0.02,0.25,0.5],[207.9,0.15,0.35,0.6],
 [208.5,0.05,0.3,0.55,0.8],[209.1,0.1,0.4,0.7],[209.7,0.02,0.3,0.55,0.9],[210.3,0.15,0.45,1.02],[210.5,1.39],[211.0,0.05,0.35,0.65,0.95],
 [211.6,0.2,0.5,0.8,1.1],[212.2,0.1,0.4,0.7,1.0],[212.8,0.02,0.3,0.6,0.9,1.2],[213.4,0.15,0.45,0.75,1.05],[214.0,0.05,0.35,0.65,0.95,1.3],
 [214.5,0.2,0.55,0.85,1.58],[215.1,0.1,0.4,0.75,1.15,2.98],[215.7,0.02,0.3,0.6,0.9,1.25],[215.9,1.79],[216.3,0.15,0.45,0.8,1.1],
 [216.9,0.05,0.35,0.65,1.0],[217.6,0.2,0.55,0.9,2.3],[218.1,0.1,0.4,1.2,1.5],[218.7,0.02,0.3,0.6,0.95],[219.3,0.15,0.45,0.75,1.1],
 [219.9,0.05,0.35,0.65,1.81],[220.5,0.2,0.5,0.85],[221.1,0.1,0.4,0.7,1.0],[221.4,1.48],[221.7,0.02,0.3,0.6,0.9],[222.3,0.15,0.45,0.8],
 [222.9,0.05,0.35,0.65,1.5],[223.5,0.2,0.5],[223.9,2.83]]
zn_vr08 = [[224.2,0.05,0.35,0.7,1.0,1.3,1.6],[224.4,2.2,2.83],[225.0,0.2,0.5,0.85,2.7],[225.1,1.77,2.02],[225.5,0.1,0.4,0.75,1.1,2.1],
 [226.0,0.02,0.3,0.6,0.9],[226.4,1.77],[226.6,0.15,0.45,0.8,2.06],[227.2,0.05,0.35,0.65],[227.8,0.2,0.5,0.85],[228.4,0.1,0.4,0.7],
 [229.0,0.02,0.3,0.55],[229.6,0.15,0.45,0.75],[230.2,0.05,0.25,0.5],[230.6,1.27],[230.8,0.15,0.9,1.37,1.56],[231.4,0.02,0.3,0.6],
 [232.0,0.1,0.35],[232.7,0.05,0.25,0.5],[233.4,0.15,0.4],[234.0,0.02,0.3,0.6],[234.6,0.1,0.35,1.7],[235.0,2.41],[235.2,0.05,0.5,1.11],
 [235.5,3.7],[235.7,0.25,1.58,2.06],[236.3,0.02,0.2,0.45],[237.0,0.1,0.35,0.65],[237.6,0.05,0.25],[237.9,1.55],
 [238.3,0.15,1.5,2.06,2.4,2.71],[239.0,0.02,0.2],[239.7,0.1,0.3,1.97],[240.4,0.05,0.25],[241.0,0.15,0.4,0.7],
 [241.7,0.02,0.3,0.6,1.0,1.87,2.08,4.0],[241.8,3.0],[242.5,0.1,0.45,0.8,1.46,2.71],[242.6,1.12,1.33,1.68,2.2],[243.2,0.05,0.3],
 [243.7,0.2,2.06],[244.4,0.1,0.4],[245.1,0.02,0.2],[245.8,0.15,0.3],[246.5,0.05],[247.3,0.1,0.25],[248.0,0.02,0.2,0.45],
 [248.7,0.1,0.35,0.6],[249.3,0.05,0.3,0.55,0.85],[249.9,0.15,0.45,1.25],[250.3,0.1,0.7,1.79],[250.7,0.02,0.35,1.62],[250.8,1.0,1.52],
 [251.0,0.2,1.37,2.11],[251.5,0.05,0.5,0.8],[251.8,2.64,2.7],[252.0,0.15,0.95,2.31,2.41,2.87,2.91,3.03,3.37,3.43],
 [252.1,0.4,1.2,2.12,3.16,3.28,3.72],[252.7,0.1,0.35,0.65],[253.3,0.02,0.3,0.6],[253.9,0.15,0.45,0.75],[254.5,0.05,0.35,0.6,2.2],
 [255.1,0.2,0.5,0.85],[255.7,0.1,0.4,0.7],[255.9,1.62],[256.4,0.02,0.3,0.6,0.95],[257.1,0.15,0.45,1.97],[257.6,0.05,0.3,0.75,3.01],
 [258.2,0.2,0.55,0.9],[258.5,1.6],[258.7,0.1,1.93],[259.3,0.02,0.35,0.65,1.0],[260.1,0.15,0.45,0.8,1.64],[260.7,0.05,0.35,0.7,1.1],
 [260.9,3.23],[261.4,0.2,0.5,0.85],[262.0,0.1,0.4,0.75,1.15],[262.3,1.37],[262.6,0.02,0.3,0.6,0.95],[263.1,0.15,0.5,1.92],
 [263.8,0.05,0.35,0.8,1.2,1.5],[264.4,0.2,0.55,0.95,1.79],[264.9,0.1,0.45,1.6,2.2],[265.5,0.02,0.3,0.65,1.05,1.3],
 [266.1,0.15,0.5,0.85,1.2],[266.3,2.43,2.64,2.8],[266.6,2.12],[266.7,0.05,0.4,1.0,1.79],[267.4,0.2,0.6,1.37],[267.7,3.36],
 [268.0,0.1,0.45,0.85,1.15,1.5],[268.2,2.37],[268.4,2.99,3.23],[268.5,2.53],[268.8,0.02,0.35,0.7,2.2,2.74],[269.3,0.15,0.55,1.0,1.4]]
zn_vr09 = [[269.8,0.05,0.35,0.65,0.95],[270.0,1.17,1.37,1.73,2.38],[270.5,0.2,0.5,0.8,2.0],[271.1,0.1,0.4,0.7,1.0],[271.7,0.02,0.3,0.6,0.9],
 [272.3,0.15,0.45,0.75,1.64],[272.4,1.87],[272.5,1.97],[272.9,0.05,0.35,0.65,1.05],[273.5,0.2,0.5,0.85,1.2],[273.9,2.11],[274.0,2.32],
 [274.2,0.1,0.4,0.75,1.83],[274.4,1.34],[274.8,0.02,0.3,0.6,0.95],[275.5,0.15,0.45,1.1,1.59],[275.7,2.1],[275.8,0.8,1.88],
 [276.2,0.05,0.35,0.65,1.25],[276.8,0.2,0.5,0.9],[277.4,0.1,0.4,0.7,1.05],[278.0,0.02,0.3,0.6,2.32],[278.7,0.15,0.45,0.85,1.74,2.42],
 [279.3,0.05,0.35,0.65,1.0],[279.9,0.2,0.5,0.8],[280.5,0.1,0.4,0.7,1.1],[280.9,2.78],[281.1,0.02,0.3,0.6,1.58],[281.7,0.15,0.45,0.75,1.0],
 [282.3,0.05,0.35,0.65],[282.9,0.2,0.5,0.85],[283.3,1.48],[283.5,0.1,0.4,0.7,2.2],[284.1,0.02,0.3,0.6,1.26],[284.7,0.15,0.45,0.9],
 [284.9,1.52],[285.3,0.05,0.35,0.65],[285.5,1.84],[285.9,0.2,0.5,0.8],[286.5,0.1,0.4,0.7,1.0],[286.8,1.6],[287.1,0.02,0.3,0.6],
 [287.7,0.15,0.45,0.75],[288.3,0.05,0.35,0.65,0.95],[288.6,1.12],[289.0,0.2,0.5,0.8],[289.6,0.1,0.4,0.7],[290.2,0.02,0.3,0.6,0.9],
 [290.3,1.27],[290.4,1.41,1.54,1.71,1.79,2.02,2.33],[290.6,4.59]]
zn_vr10 = [[290.9,0.05,0.35,0.65,0.95],[291.1,1.58],[291.5,0.2,0.5,0.8],[292.1,0.1,0.4,0.7,1.1],[292.7,0.02,0.3,0.6,0.9],[293.0,1.5],
 [293.3,0.15,0.45,1.77],[293.9,0.05,0.35,0.65,1.0],[294.6,0.2,0.5,0.85,2.09],[295.0,2.4],[295.2,0.1,0.4,1.71],[295.8,0.02,0.3,0.6,1.2],
 [296.4,0.15,0.45,0.75],[297.0,0.05,0.35,1.27],[297.6,0.2,0.5,0.8],[298.2,0.1,0.4,1.73],[298.8,0.02,0.3,0.6,0.95],[299.2,1.27,1.95],
 [299.5,0.15,0.45,0.75],[300.1,0.05,0.35,0.65],[300.7,0.2,0.5,0.9],[301.5,0.1,2.22],[301.6,1.39,1.62],[301.7,0.4,1.75],
 [302.2,0.02,0.3,0.6],[302.8,0.15,0.45,0.8],[303.4,0.05,0.35,0.65,1.05],[303.8,1.46,2.45],[304.0,0.2,0.5],[304.6,0.1,0.4,3.21],
 [305.0,1.66,1.9,2.08],[305.3,0.02,0.3,0.6,0.9],[305.9,0.15,3.21],[306.2,0.05,0.35,0.7],[306.8,0.2,0.5,1.15],[307.2,1.5],
 [307.4,0.1,0.4,0.75],[308.0,0.02,0.3,0.6,0.95],[308.6,0.15,0.45,0.8],[309.2,0.05,0.35,0.7,1.1],[309.4,1.39],[309.5,2.43],
 [309.8,0.2,0.5,0.9],[310.4,0.1,0.4,0.75,1.2],[310.8,1.54,1.7,1.83,3.18],[311.1,0.02,0.3,0.6,1.0],[311.2,2.29]]
zn_vr11 = [[311.8,0.05,0.35,0.65,0.95],[312.4,0.2,0.5,0.8],[312.6,1.15],[313.0,0.1,0.4,0.7,1.05],[313.6,0.02,0.3,0.6,0.9],[313.9,2.04],
 [314.1,0.15,1.2,2.62,2.7],[314.5,1.39,1.93],[314.7,0.45,1.68],[314.8,0.75,1.79,2.2],[315.2,0.05,2.37],[315.4,0.35,0.65,1.0],
 [316.0,0.2,0.5,0.85],[316.6,0.1,0.4,0.7,1.1],[316.9,1.5],[317.2,0.02,0.3,0.6,0.95],[317.4,1.33,1.97,2.04,2.33],[317.8,0.15,0.45,1.62],
 [318.4,0.05,0.35,0.75],[319.0,0.2,0.5,0.85],[319.2,0.94],[319.6,0.1,0.4,0.7],[319.8,1.33],[320.0,1.73],[320.3,0.02,0.3,0.6,1.0],
 [320.9,0.15,0.45,0.75],[321.5,0.05,0.35,0.65],[322.1,0.2,0.5,0.8],[322.5,1.02],[322.7,0.1,0.4,0.6],[323.3,0.02,0.3,0.55],
 [323.9,0.15,0.4],[324.3,0.05,0.3,1.02],[325.0,0.1,0.25,0.5],[325.7,0.02,0.2,0.4],[326.4,0.1,0.3],[327.2,0.05,0.25,0.5,0.98],
 [327.8,0.15,0.4,0.7],[328.0,1.17],[328.5,0.02,0.3,0.6,0.85],[329.1,0.1,0.45,0.75],[329.7,0.05,0.35,1.61],[330.3,0.2,0.5,0.65],
 [330.7,0.1,0.79]]

fe_chroms = [fe_vr01, fe_vr02, fe_vr03, fe_vr04, fe_vr05, fe_vr06, fe_vr07, fe_vr08, fe_vr09, fe_vr10, fe_vr11]
zn_chroms = [zn_vr01, zn_vr02, zn_vr03, zn_vr04, zn_vr05, zn_vr06, zn_vr07, zn_vr08, zn_vr09, zn_vr10, zn_vr11]

# ---------------- styling ----------------
W, H = 2561, 1218
BLACK = '#000000'
GREY = '#a9a9a9'
LABEL_GREY = '#a6a6a6'
BAND = '#ebebeb'
PT_SIZE = 82


def expand(cols):
    xs, ys = [], []
    for c in cols:
        for v in c[1:]:
            xs.append(c[0])
            ys.append(v)
    return xs, ys


fig = plt.figure(figsize=(W / 100, H / 100), dpi=100)


def px_axes(left, right, top, bottom):
    return fig.add_axes([left / W, 1 - bottom / H, (right - left) / W, (bottom - top) / H])


def draw_panel(ax, chroms, threshold, bands, ylim, label_y, band_gap=None):
    ax.set_xlim(-13.18, 343.97)
    ax.set_ylim(*ylim)
    # highlighted regions
    for i, (x0, x1) in enumerate(bands):
        if band_gap is not None and i == 0:
            g0, g1 = band_gap
            ax.fill_between([x0, x1], ylim[0], g0, color=BAND, lw=0, zorder=1)
            ax.fill_between([x0, x1], g1, ylim[1], color=BAND, lw=0, zorder=1)
        else:
            ax.axvspan(x0, x1, color=BAND, lw=0, zorder=1)
    # points
    for i, cols in enumerate(chroms):
        xs, ys = expand(cols)
        ax.scatter(xs, ys, s=PT_SIZE, c=BLACK if i % 2 == 0 else GREY, linewidths=0, zorder=2)
    # chromosome boundaries
    for b in chrom_bounds[1:]:
        ax.axvline(b, color='#9a9a9a', lw=1.9, ls=(0, (4.2, 2.4)), zorder=3)
    ax.axhline(threshold, color='#ababab', lw=2.5, ls=(0, (3.7, 2.3)), zorder=3)
    # chromosome labels
    for i, name in enumerate(chrom_names):
        mid = (chrom_bounds[i] + chrom_bounds[i + 1]) / 2
        ax.text(mid, label_y, name, ha='center', va='baseline', fontsize=21, fontweight='bold',
                color=BLACK if i % 2 == 0 else LABEL_GREY, zorder=4)
    # axes
    for s in ('top', 'right'):
        ax.spines[s].set_visible(False)
    ax.spines['left'].set_bounds(0, 5)
    ax.spines['bottom'].set_bounds(0, 340)
    for s in ('left', 'bottom'):
        ax.spines[s].set_linewidth(1.8)
    ax.set_xticks(x_ticks)
    ax.set_yticks(y_ticks)
    ax.tick_params(axis='both', length=13.7, width=1.8, labelsize=22, direction='out')
    ax.tick_params(axis='y', pad=12)
    ax.tick_params(axis='x', pad=13)
    ax.text(-0.0627, 0.5, r'$-\mathrm{log}_{10}\;\;(\mathrm{p} - \mathrm{value})$', transform=ax.transAxes,
            rotation=90, ha='center', va='center', fontsize=22, color='#222222')
    ax.patch.set_visible(False)


ax_fe = px_axes(244, 2493, 28.6, 529.6)
draw_panel(ax_fe, fe_chroms, fe_threshold, fe_bands, (-0.221, 5.648), 5.314)

ax_zn = px_axes(244, 2493, 645.3, 1146)
draw_panel(ax_zn, zn_chroms, zn_threshold, zn_bands, (-0.236, 5.995), 5.637, band_gap=(4.5, 5.48))

fig.text(273 / W, 1 - 110.7 / H, 'Fe', fontsize=39, fontweight='bold', family='Liberation Serif',
         color='#ff0000', ha='left', va='baseline')
fig.text(273 / W, 1 - 744 / H, 'Zn', fontsize=39, fontweight='bold', family='Liberation Serif',
         color='#7030a0', ha='left', va='baseline')

fig.savefig('out.png', dpi=100)
